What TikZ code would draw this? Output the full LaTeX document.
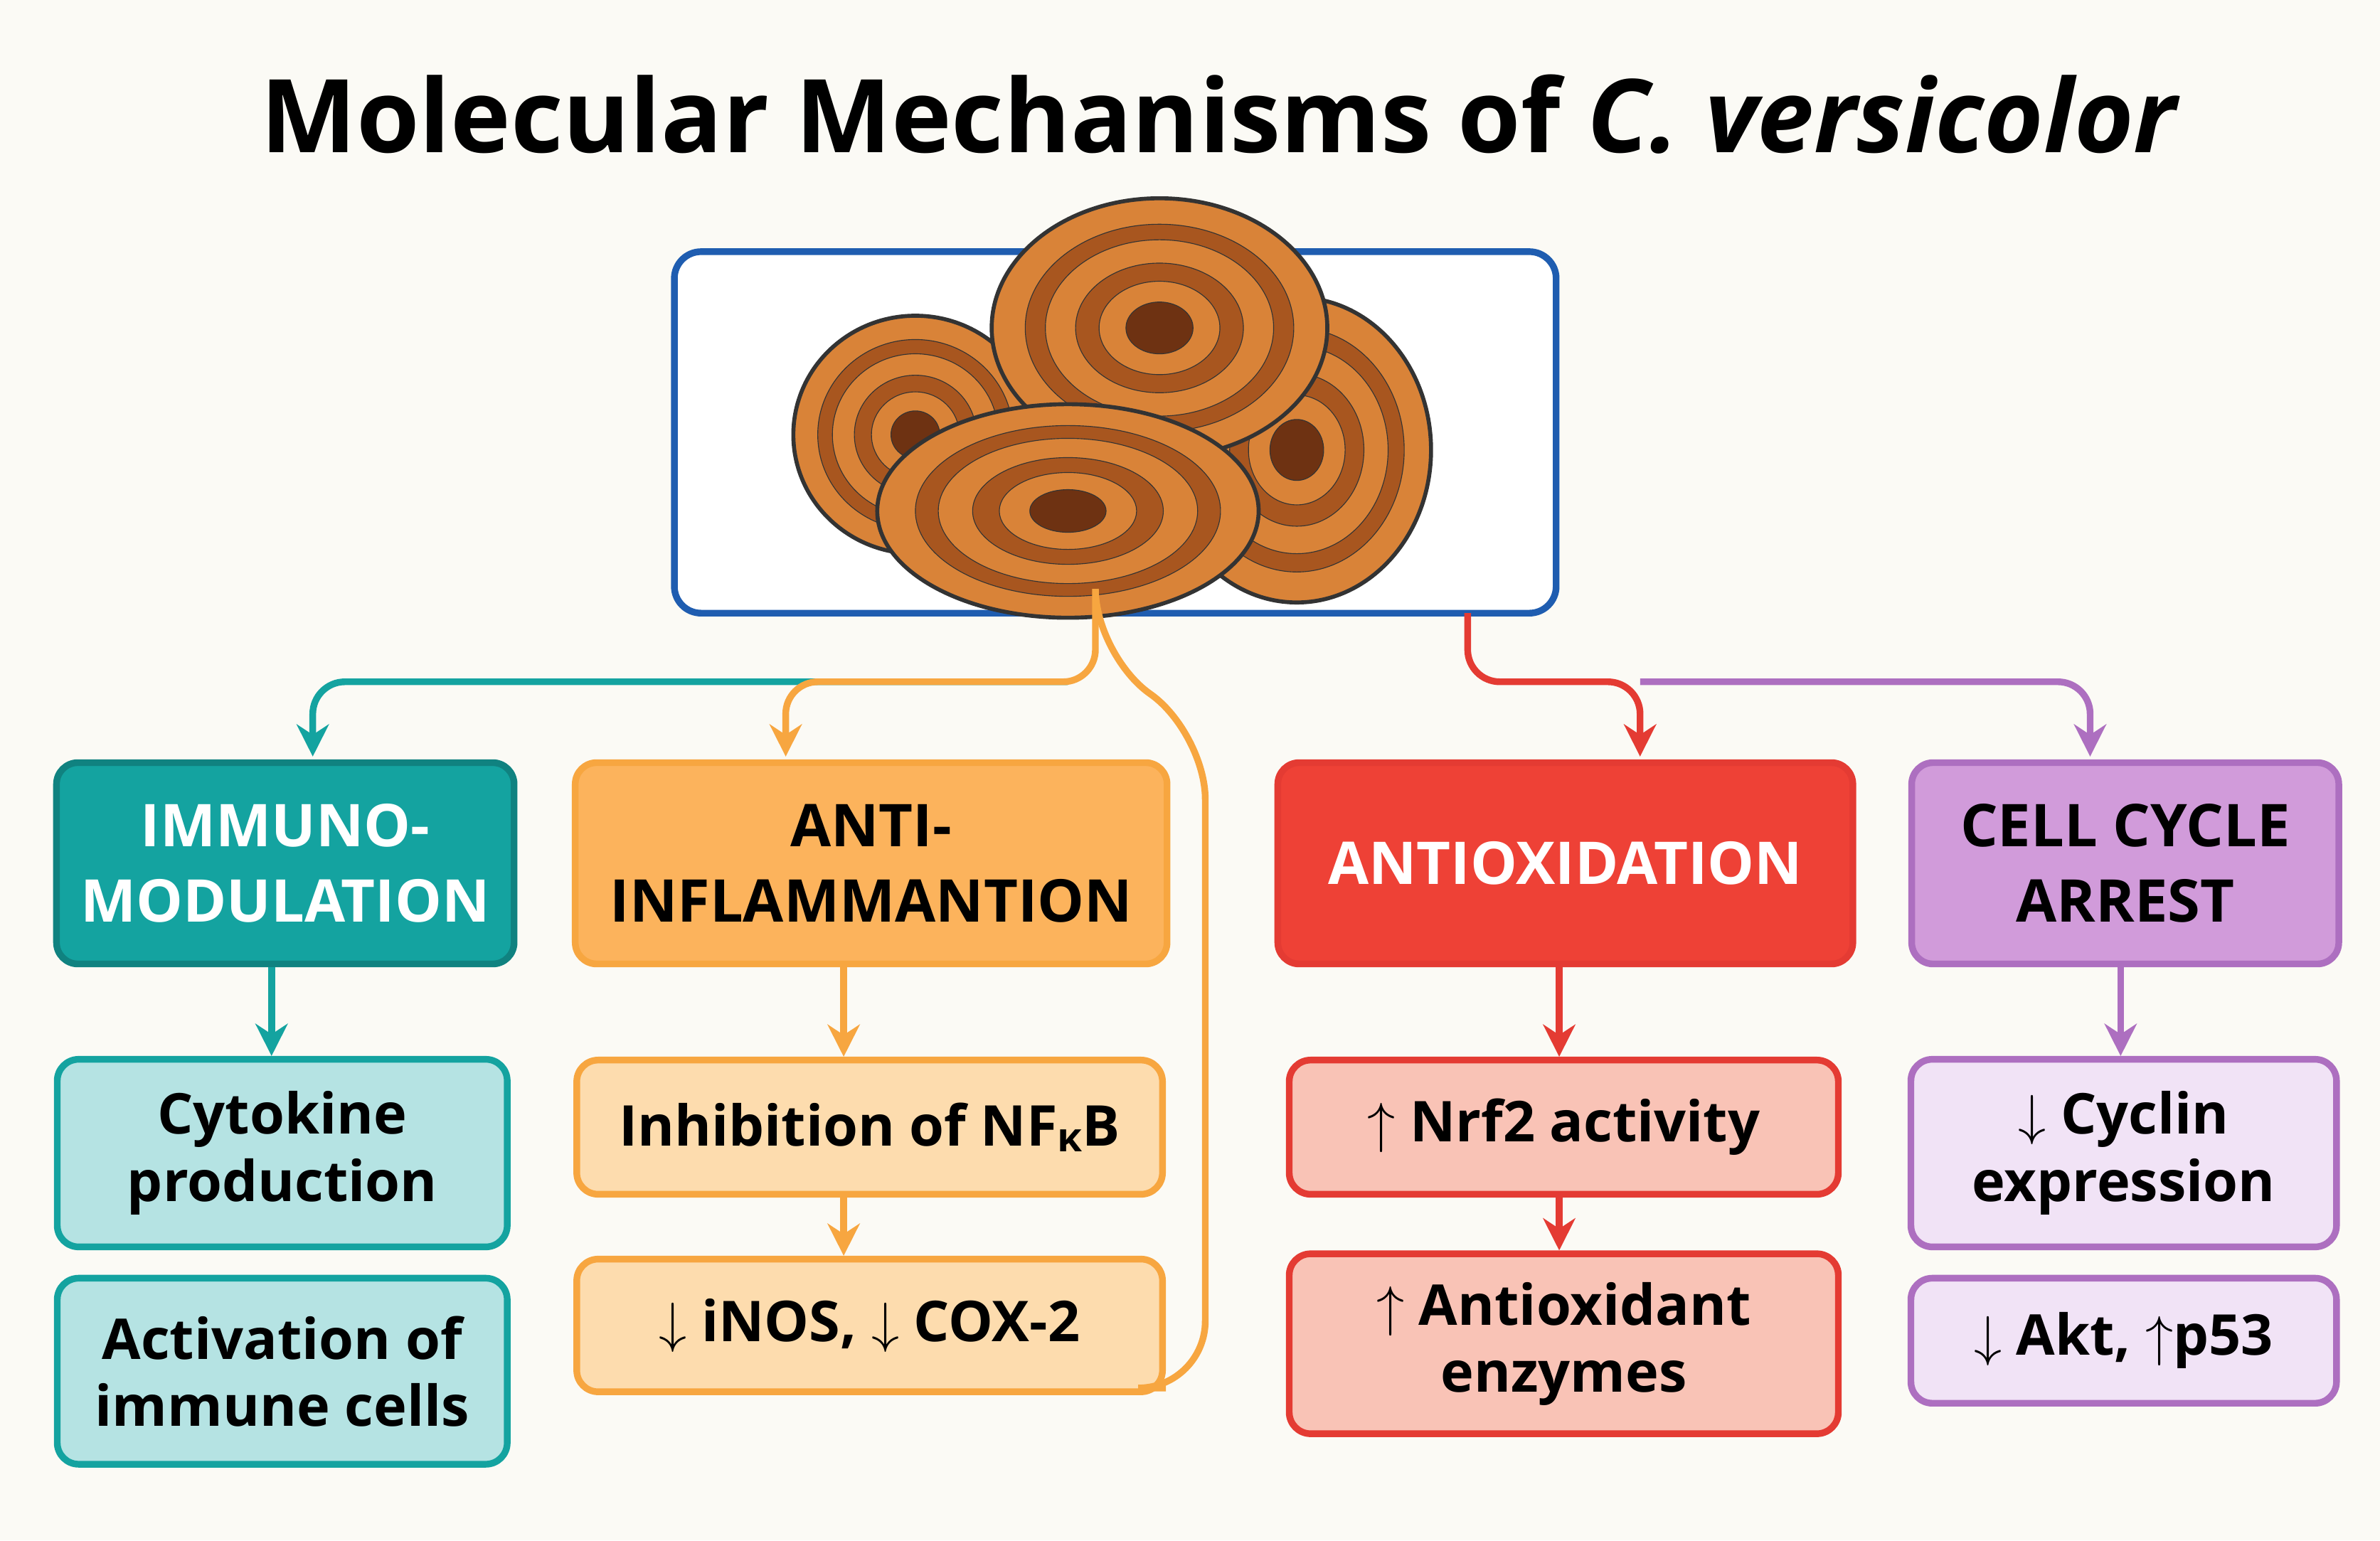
\documentclass[tikz,border=0pt]{standalone}
\usepackage{fontspec}
\setmainfont{Open Sans}
\usetikzlibrary{arrows.meta}
\definecolor{teal1}{HTML}{14A3A0}\definecolor{teal2}{HTML}{B5E3E3}
\definecolor{or1}{HTML}{FCB35C}\definecolor{or2}{HTML}{FDDCAE}\definecolor{orl}{HTML}{F7A640}
\definecolor{red1}{HTML}{EE4136}\definecolor{red2}{HTML}{F9C3B6}\definecolor{redl}{HTML}{E43B33}
\definecolor{pu1}{HTML}{D19BDA}\definecolor{pu2}{HTML}{F1E3F6}\definecolor{pul}{HTML}{AD6FC0}
\definecolor{blu}{HTML}{1F5DB0}\definecolor{bg}{HTML}{FBFAF5}
\definecolor{m1}{HTML}{D98338}\definecolor{m2}{HTML}{A8561F}\definecolor{m3}{HTML}{6E3212}
\begin{document}
\begin{tikzpicture}[x=0.02cm,y=-0.02cm,
 box/.style={draw,rounded corners=8pt,line width=2.5pt,align=center,font=\bfseries\fontsize{21}{25}\selectfont,inner sep=0pt},
 top/.style={box,font=\bfseries\fontsize{22}{28}\selectfont},
 con/.style={line width=2.5pt,-{Stealth[length=12pt,width=12pt]}},
 ln/.style={line width=2.5pt}]
\fill[bg] (0,0) rectangle (1560,1010);
\node[font=\bfseries\fontsize{38}{44}\selectfont] (title) at (800,75) {Molecular Mechanisms of \textit{C. versicolor}};
\draw[blu,line width=2.5pt,rounded corners=10pt,fill=white] (442,165) rectangle (1020,402);
% mushroom
\foreach \cx/\cy/\rx/\ry in {600/285/80/78, 850/295/88/100, 760/215/110/85, 700/335/125/70}{
 \foreach \s/\c/\w in {1/m1/1.5pt,0.8/m2/0.3pt,0.68/m1/0.3pt,0.5/m2/0.3pt,0.36/m1/0.3pt,0.2/m3/0.3pt}{
  \fill[\c,draw=black!80,line width=\w] (\cx,\cy) ellipse ({\rx*\s} and {\ry*\s});}}
\coordinate (j1) at (718,402);
\coordinate (j2) at (962,402);
% top row
\node[top,fill=teal1,draw=teal1!80!black,text=white,minimum width=6cm,minimum height=2.64cm] (imm) at (187,566) {IMMUNO-\\MODULATION};
\node[top,fill=or1,draw=orl,minimum width=7.76cm,minimum height=2.64cm] (ant) at (571,566) {ANTI-\\INFLAMMANTION};
\node[top,fill=red1,draw=redl,text=white,minimum width=7.54cm,minimum height=2.64cm] (aox) at (1026,566) {ANTIOXIDATION};
\node[top,fill=pu1,draw=pul,minimum width=5.6cm,minimum height=2.64cm] (cc) at (1393,566) {CELL CYCLE\\ARREST};
% second/third rows
\node[box,fill=teal2,draw=teal1,minimum width=5.9cm,minimum height=2.46cm] (cyt) at (185,756) {Cytokine\\production};
\node[box,fill=teal2,draw=teal1,minimum width=5.9cm,minimum height=2.44cm] (act) at (185,899) {Activation of\\immune cells};
\node[box,fill=or2,draw=orl,minimum width=7.68cm,minimum height=1.76cm] (inh) at (570,739) {Inhibition of NF{\fontsize{15}{15}\selectfont\raisebox{-2pt}{κ}}B};
\node[box,fill=or2,draw=orl,minimum width=7.68cm,minimum height=1.74cm] (inos) at (570,869) {$\downarrow$ iNOS, $\downarrow$ COX-2};
\node[box,fill=red2,draw=redl,minimum width=7.2cm,minimum height=1.76cm] (nrf) at (1025,739) {$\uparrow$ Nrf2 activity};
\node[box,fill=red2,draw=redl,minimum width=7.2cm,minimum height=2.36cm] (enz) at (1025,881) {$\uparrow$ Antioxidant\\enzymes};
\node[box,fill=pu2,draw=pul,minimum width=5.58cm,minimum height=2.46cm] (cyc) at (1392,756) {$\downarrow$ Cyclin\\expression};
\node[box,fill=pu2,draw=pul,minimum width=5.58cm,minimum height=1.64cm] (akt) at (1392,879) {$\downarrow$ Akt, $\uparrow$p53};
% connectors
\draw[con,teal1,rounded corners=12pt] (700,447) -- (205,447) -- (205,496);
\draw[con,orl,rounded corners=12pt] (j1) -- (718,447) -- (515,447) -- (515,496);
\draw[ln,orl,rounded corners=25pt] (j1) -- (718,430) -- (790,480) -- (790,910) -- (inos.east|-0,910);
\draw[con,pul,rounded corners=12pt] (1075,447) -- (1370,447) -- (1370,496);
\draw[con,redl,rounded corners=12pt] (j2) -- (962,447) -- (1075,447) -- (1075,496);
\draw[con,teal1] (imm.south-|178,0) -- (cyt.north-|178,0);
\draw[con,orl] (ant.south-|553,0) -- (inh.north-|553,0);
\draw[con,orl] (inh.south-|553,0) -- (inos.north-|553,0);
\draw[con,redl] (aox.south-|1022,0) -- (nrf.north-|1022,0);
\draw[con,redl] (nrf.south-|1022,0) -- (enz.north-|1022,0);
\draw[con,pul] (cc.south-|1390,0) -- (cyc.north-|1390,0);
\end{tikzpicture}
\end{document}
